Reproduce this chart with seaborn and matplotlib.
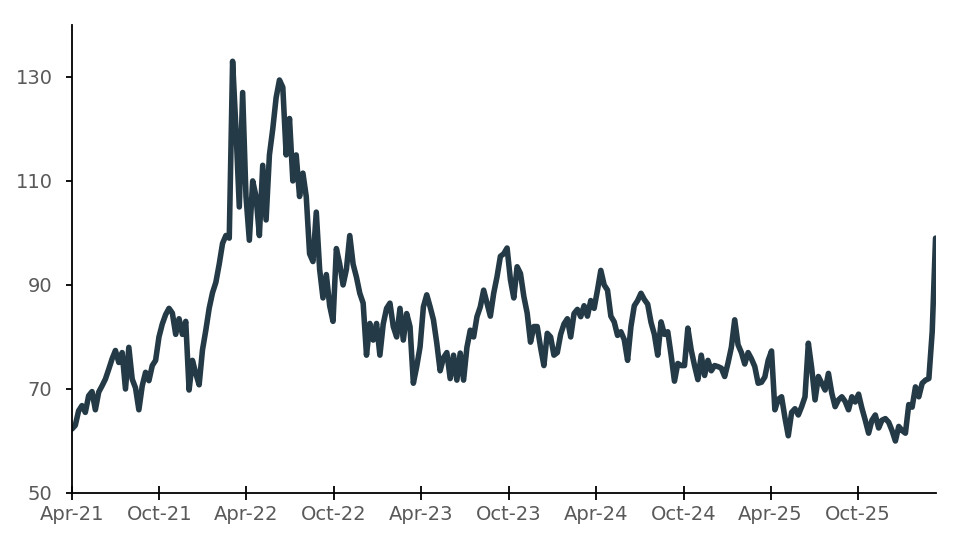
import numpy as np
import pandas as pd
import matplotlib.pyplot as plt
import matplotlib.dates as mdates
import seaborn as sns

# weekly readings, first week starts Apr 2021
start_date = "2021-04-01"
values = [
    62.3, 63, 65.8, 66.8, 65.5, 68.7, 69.5, 66, 69.4, 70.6,
    71.9, 73.8, 75.8, 77.4, 75.1, 77, 70, 78, 71.9, 70.2,
    66, 70.6, 73.2, 71.6, 74.5, 75.5, 80, 82.5, 84.3, 85.5,
    84.6, 80.5, 83.5, 80.5, 83, 69.8, 75.5, 73, 70.8, 77.5,
    81.3, 85.5, 88.5, 90.5, 94, 98, 99.5, 99, 133, 120,
    105, 127, 107, 98.6, 110, 107, 99.5, 113, 102.5, 115,
    120, 126, 129.4, 128, 115, 122, 110, 115, 107, 111.5,
    107, 96, 94.5, 104, 93, 87.5, 92, 86, 83, 97,
    94, 90, 93, 99.5, 94, 91.5, 88.4, 86.5, 76.5, 82.6,
    79.4, 82.6, 76.5, 82.5, 85.5, 86.5, 82, 80, 85.5, 79.4,
    84.5, 82, 71.1, 74.3, 78.1, 85.8, 88.1, 85.8, 83.3, 78.8,
    73.5, 76, 77, 72, 76.5, 71.7, 76.9, 71.7, 78, 81.3,
    80, 83.9, 85.8, 89, 86.5, 84, 88.4, 91.6, 95.5, 96,
    97.1, 91, 87.5, 93.5, 92.2, 87.8, 84.6, 79, 82, 82,
    78, 74.5, 80.7, 80, 76.5, 77, 80.5, 82.5, 83.5, 80,
    84.5, 85.3, 83.9, 86, 84, 87, 85.5, 89, 92.8, 90,
    89, 84, 82.9, 80.3, 81, 79.5, 75.5, 82, 86, 87,
    88.4, 87.2, 86.3, 82.8, 80.5, 76.5, 82.9, 80.5, 81, 76.5,
    71.5, 74.9, 74.5, 74.5, 81.7, 77.5, 74.5, 71.8, 76.5, 72.6,
    75.5, 73.5, 74.5, 74.3, 74, 72.4, 75, 78, 83.3, 78.5,
    77, 74.8, 77, 75.8, 74.3, 71.1, 71.3, 72.3, 75.5, 77.3,
    66, 68, 68.5, 64.5, 61, 65.5, 66.2, 65, 66.6, 68.5,
    78.8, 74, 67.9, 72.4, 71.1, 69.8, 73, 69.2, 66.6, 67.9,
    68.5, 67.6, 66, 68.5, 67.5, 69, 66.3, 64, 61.5, 64,
    65, 62.5, 64, 64.3, 63.6, 62, 60, 62.8, 62, 61.5,
    67, 66.5, 70.4, 68.5, 71.1, 71.7, 72, 81, 99,
]
y_ticks = [50, 70, 90, 110, 130]

dates = pd.date_range(start_date, periods=len(values), freq="7D")
df = pd.DataFrame({"date": dates, "value": values})

sns.set_style("ticks")
plt.rcParams["font.family"] = ["DejaVu Sans"]

fig = plt.figure(figsize=(9.72, 5.53), dpi=100)
ax = fig.add_axes([0.074, 0.1085, 0.8885, 0.8465])

sns.lineplot(data=df, x="date", y="value", color="#243a46", linewidth=4,
             solid_joinstyle="round", solid_capstyle="round", ax=ax)

ax.set_xlim(dates[0], dates[-1])
ax.set_ylim(50, 140)
ax.set_yticks(y_ticks)
ax.xaxis.set_major_locator(mdates.MonthLocator(bymonth=[4, 10]))
ax.xaxis.set_major_formatter(mdates.DateFormatter("%b-%y"))
ax.set_xlabel("")
ax.set_ylabel("")

for side in ["top", "right"]:
    ax.spines[side].set_visible(False)
for side in ["left", "bottom"]:
    ax.spines[side].set_color("black")
    ax.spines[side].set_linewidth(1.3)

ax.tick_params(axis="x", direction="inout", length=9.5, width=1.3, pad=4,
               labelsize=14, labelcolor="#595959", color="black")
ax.tick_params(axis="y", direction="out", length=4, width=1.3, pad=10,
               labelsize=14, labelcolor="#595959", color="black")

fig.savefig("out.png", dpi=100)
